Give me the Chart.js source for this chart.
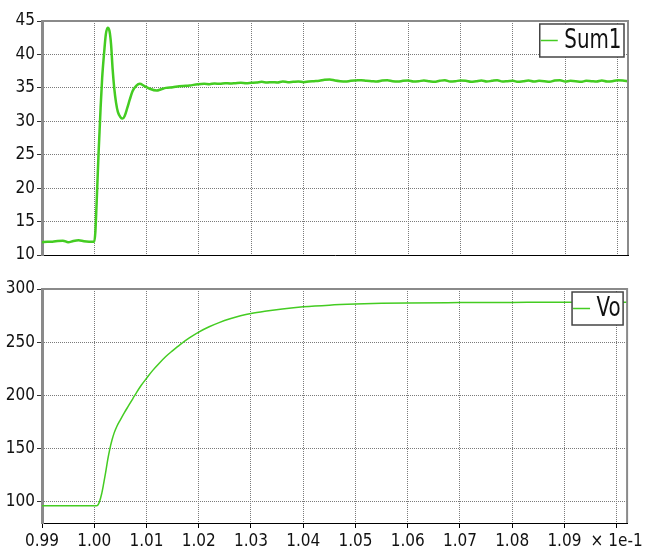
<!DOCTYPE html>
<html><head><meta charset="utf-8">
<script src="https://cdn.jsdelivr.net/npm/chart.js@4"></script>
<style>
html,body{margin:0;padding:0;background:#fff;width:646px;height:552px;overflow:hidden}
canvas{position:absolute;left:0}
#c1{top:0}
#c2{top:270px}
</style></head><body>
<canvas id="c1" width="646" height="270"></canvas>
<canvas id="c2" width="646" height="282"></canvas>
<script>
// ---- data ----
const xTicks = [0.99,1.00,1.01,1.02,1.03,1.04,1.05,1.06,1.07,1.08,1.09,1.10];
const sumTicks = [10,15,20,25,30,35,40,45];
const voTicks = [100,150,200,250,300];
const xLabelMult = '× 1e-1';

const sumT = [0.990,0.991,0.992,0.993,0.994,0.995,0.996,0.997,0.998,0.999,1.0000,
 1.0002,1.0004,1.0006,1.0008,1.0010,1.0012,1.0015,1.0019,1.0022,1.00255,1.0029,1.0032,1.0035,1.0038,1.00415,
 1.0045,1.0050,1.0054,1.0058,1.0063,1.0068,1.0073,1.0080,1.0087,1.0095,1.0105,1.0119,1.0128,1.0137,1.0150,
 1.0162,1.0175,1.0182,1.0198,
 1.021,1.022,1.023,1.024,1.025,1.026,1.027,1.028,1.029,1.030,1.031,1.032,1.033,1.034,1.035,1.036,1.037,1.038,1.039,1.040,
 1.041,1.042,1.043,1.044,1.045,1.046,1.047,1.048,1.049,1.050,1.051,1.052,1.053,1.054,1.055,1.056,1.057,1.058,1.059,1.060,
 1.061,1.062,1.063,1.064,1.065,1.066,1.067,1.068,1.069,1.070,1.071,1.072,1.073,1.074,1.075,1.076,1.077,1.078,1.079,1.080,
 1.081,1.082,1.083,1.084,1.085,1.086,1.087,1.088,1.089,1.090,1.091,1.092,1.093,1.094,1.095,1.096,1.097,1.098,1.099,1.100,
 1.101,1.102];
const sumV = [11.9,12.0,12.0,12.1,12.15,11.9,12.1,12.2,12.05,12.0,12.0,
 13.5,17,21,25,28.5,32,36.5,40.5,43,44,43.5,41.5,37.8,35,32.8,
 31.4,30.6,30.4,30.8,32,33.3,34.5,35.3,35.6,35.3,34.9,34.6,34.8,35.0,35.1,
 35.25,35.3,35.35,35.55,
 35.6,35.55,35.65,35.6,35.7,35.65,35.7,35.75,35.7,35.75,35.8,35.9,35.8,35.85,35.8,35.95,35.85,35.9,35.95,35.85,
 35.95,36.0,36.05,36.2,36.25,36.1,36.0,35.95,36.05,36.1,36.15,36.05,36.0,35.95,36.1,36.15,36.0,35.95,36.05,36.1,
 35.95,36.0,36.1,36.0,35.9,36.05,36.15,35.95,36.0,36.1,36.05,35.9,36.0,36.1,35.95,36.05,36.15,35.95,36.0,36.05,
 35.9,36.0,36.1,35.95,36.05,36.0,35.9,36.1,36.15,35.95,36.05,36.0,35.9,36.05,36.0,35.95,36.1,35.95,36.0,36.15,
 36.1,36.0];

const voT = [0.990,1.0004,1.0007,1.0010,1.0014,1.0018,1.0022,1.0026,1.0030,1.0034,1.0038,1.0043,1.0050,1.0058,
 1.0066,1.0074,1.0082,1.0090,1.0100,1.0112,1.0124,1.0137,1.0150,1.0165,1.0182,1.0200,1.0220,1.0239,1.0260,
 1.0280,1.0300,1.0330,1.0360,1.0400,1.0450,1.0500,1.0550,1.0600,1.0700,1.0800,1.0900,1.1020];
const voV = [96.2,96.2,97,100,107,117,128,140,150,158,164.5,170.5,177,184,
 190.5,197,203.5,209.5,216,223.5,230,236.5,242,248,254,259.5,264.5,268.4,272,
 274.8,277,279.3,281.2,283.2,284.8,285.8,286.5,286.9,287.2,287.4,287.5,287.5];

// ---- styling ----
const GREEN = '#44cc22';
const FONT = 'DejaVu Sans Condensed, DejaVu Sans, sans-serif';

function framePlugin(){
  return {
    id:'frame',
    afterDatasetsDraw(chart){
      const {ctx, chartArea:a} = chart;
      ctx.save();
      ctx.strokeStyle = '#8a8a8a';
      ctx.lineWidth = 2;
      ctx.beginPath();
      ctx.moveTo(a.left, a.top);
      ctx.lineTo(a.right, a.top);
      ctx.lineTo(a.right, a.bottom);
      ctx.stroke();
      ctx.restore();
    }
  };
}
function legendPlugin(text){
  return {
    id:'boxlegend',
    afterDraw(chart){
      const {ctx, chartArea:a} = chart;
      ctx.save();
      const fs = 26, sx = 0.85;
      ctx.font = fs + 'px ' + FONT;
      const tw = ctx.measureText(text).width * sx;
      const right = a.right - 4;
      const top = a.top + 3;
      const h = 33;
      const left = right - (24.5 + tw + 2.5);
      ctx.fillStyle = '#fff';
      ctx.fillRect(left, top, right-left, h);
      ctx.strokeStyle = '#444';
      ctx.lineWidth = 1.5;
      ctx.strokeRect(left, top, right-left, h);
      ctx.strokeStyle = GREEN;
      ctx.lineWidth = 1.5;
      ctx.beginPath();
      ctx.moveTo(left+1, top + h/2);
      ctx.lineTo(left+18, top + h/2);
      ctx.stroke();
      ctx.fillStyle = '#111';
      ctx.textBaseline = 'middle';
      ctx.translate(left+24.5, top + h/2 + 1);
      ctx.scale(sx, 1);
      ctx.fillText(text, 0, 0);
      ctx.restore();
    }
  };
}

function makeChart(id, T, V, yMin, yMax, yTicks, showXLabels, label, lw, padTop, xHeight){
  const data = T.map((t,i)=>({x:t, y:V[i]}));
  return new Chart(document.getElementById(id), {
    type:'line',
    data:{datasets:[{label, data, borderColor:GREEN, borderWidth:lw, pointRadius:0,
      cubicInterpolationMode:'monotone', fill:false}]},
    options:{
      responsive:false, animation:false, devicePixelRatio:1,
      layout:{padding:{left:0, right:18, top:padTop, bottom:0}},
      plugins:{legend:{display:false}, tooltip:{enabled:false}},
      scales:{
        x:{type:'linear', min:0.99, max:1.102,
          afterBuildTicks(s){ s.ticks = xTicks.map(v=>({value:v})); },
          afterFit(s){ s.height = xHeight; },
          border:{display:true, color:'#000', width:1, dash:[1,1]},
          grid:{color:'#7a7a7a', lineWidth:1, drawTicks:showXLabels,
            tickLength:5, tickColor:'#000', tickBorderDash:[], tickWidth:1},
          ticks:{display:showXLabels, autoSkip:false, maxRotation:0, padding:3, color:'#111',
            font:{family:FONT, size:17},
            callback(v){ return Math.abs(v-1.10)<1e-9 ? xLabelMult : Number(v).toFixed(2); }}
        },
        y:{type:'linear', min:yMin, max:yMax,
          afterBuildTicks(s){ s.ticks = yTicks.map(v=>({value:v})); },
          afterFit(s){ s.width = 42; },
          border:{display:true, color:'#8a8a8a', width:3, dash:[1,1]},
          grid:{color:'#7a7a7a', lineWidth:1, drawTicks:true,
            tickLength:5, tickColor:'#333', tickBorderDash:[], tickWidth:1},
          ticks:{autoSkip:false, padding:2, color:'#111', font:{family:FONT, size:17}}
        }
      }
    },
    plugins:[framePlugin(), legendPlugin(label)]
  });
}

makeChart('c1', sumT, sumV, 10, 45, sumTicks, false, 'Sum1', 2.5, 21, 15);
makeChart('c2', voT, voV, 80, 300, voTicks, true, 'Vo', 1.5, 19, 29);
</script>
</body></html>
